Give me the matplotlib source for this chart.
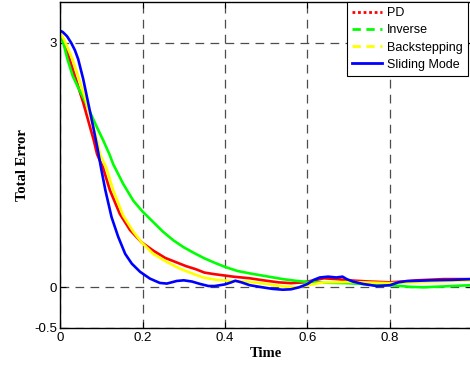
import numpy as np
import matplotlib.pyplot as plt
from matplotlib.lines import Line2D

# PD controller
t_pd = [0, 0.007, 0.023, 0.036, 0.056, 0.072, 0.082, 0.09, 0.104, 0.121, 0.145, 0.17,
        0.198, 0.226, 0.255, 0.28, 0.305, 0.33, 0.35, 0.375, 0.39, 0.42, 0.46, 0.5,
        0.53, 0.56, 0.59, 0.61, 0.64, 0.67, 0.7, 0.75, 0.8, 0.83, 0.865, 0.93, 1.0]
e_pd = [3.12, 3.04, 2.80, 2.59, 2.27, 1.98, 1.80, 1.63, 1.47, 1.19, 0.90, 0.70,
        0.55, 0.45, 0.36, 0.31, 0.26, 0.22, 0.18, 0.16, 0.15, 0.13, 0.11, 0.08,
        0.06, 0.05, 0.06, 0.08, 0.11, 0.10, 0.085, 0.07, 0.06, 0.07, 0.085, 0.10, 0.10]

# Inverse dynamics
t_inv = [0, 0.008, 0.018, 0.031, 0.046, 0.062, 0.088, 0.105, 0.120, 0.129, 0.153, 0.178,
         0.2, 0.226, 0.25, 0.275, 0.30, 0.325, 0.35, 0.375, 0.40, 0.43, 0.46, 0.5,
         0.54, 0.57, 0.6, 0.65, 0.7, 0.75, 0.8, 0.85, 0.88, 0.93, 0.97, 1.0]
e_inv = [3.10, 3.0, 2.80, 2.59, 2.43, 2.27, 1.98, 1.80, 1.63, 1.51, 1.27, 1.06,
         0.93, 0.80, 0.68, 0.575, 0.49, 0.42, 0.355, 0.30, 0.25, 0.20, 0.17, 0.135,
         0.10, 0.08, 0.065, 0.055, 0.05, 0.035, 0.025, 0.005, 0.0, 0.01, 0.02, 0.025]

# Backstepping
t_bs = [0, 0.01, 0.03, 0.044, 0.064, 0.080, 0.09, 0.097, 0.112, 0.129, 0.153, 0.178,
        0.198, 0.226, 0.259, 0.29, 0.32, 0.347, 0.38, 0.42, 0.46, 0.5, 0.54, 0.575,
        0.6, 0.64, 0.7, 0.8, 0.9, 1.0]
e_bs = [3.12, 3.04, 2.80, 2.59, 2.27, 1.98, 1.80, 1.63, 1.47, 1.19, 0.88, 0.68,
        0.55, 0.41, 0.31, 0.23, 0.17, 0.12, 0.09, 0.075, 0.065, 0.04, 0.01, 0.0,
        0.025, 0.06, 0.065, 0.05, 0.07, 0.085]

# Sliding mode
t_sm = [0, 0.007, 0.017, 0.027, 0.036, 0.044, 0.056, 0.068, 0.080, 0.091, 0.100, 0.110,
        0.125, 0.141, 0.158, 0.174, 0.194, 0.218, 0.242, 0.259, 0.283, 0.30, 0.32, 0.34,
        0.36, 0.375, 0.40, 0.415, 0.425, 0.44, 0.46, 0.49, 0.515, 0.54, 0.56, 0.58,
        0.60, 0.615, 0.63, 0.65, 0.67, 0.685, 0.695, 0.71, 0.735, 0.768, 0.80, 0.82,
        0.84, 0.87, 0.9, 0.95, 1.0]
e_sm = [3.15, 3.13, 3.08, 3.0, 2.91, 2.80, 2.56, 2.27, 1.98, 1.70, 1.45, 1.19,
        0.86, 0.62, 0.41, 0.29, 0.19, 0.106, 0.053, 0.045, 0.077, 0.085, 0.07, 0.04,
        0.015, 0.015, 0.035, 0.06, 0.08, 0.06, 0.025, 0.0, -0.02, -0.03, -0.025, 0.0,
        0.04, 0.09, 0.12, 0.13, 0.12, 0.13, 0.10, 0.07, 0.04, 0.015, 0.025, 0.06,
        0.075, 0.08, 0.085, 0.09, 0.10]

labels = ['PD', 'Inverse', 'Backstepping', 'Sliding Mode']
colors = ['#ff0000', '#00ff00', '#ffff00', '#0000ff']
styles = [(0, (1, 1)), (0, (3, 2)), (0, (3, 2)), '-']

fig = plt.figure(figsize=(4.7, 3.69), dpi=100)
ax = fig.add_axes([60 / 470, 41 / 369, 412.5 / 470, 326 / 369])

series = [(t_pd, e_pd), (t_inv, e_inv), (t_bs, e_bs), (t_sm, e_sm)]
for (t, e), c in zip(series, colors):
    ax.plot(t, e, color=c, lw=1.9, solid_joinstyle='round')

ax.set_xlim(0, 1)
ax.set_ylim(-0.5, 3.5)
ax.set_xticks([0, 0.2, 0.4, 0.6, 0.8])
ax.set_xticklabels(['0', '0.2', '0.4', '0.6', '0.8'])
ax.set_yticks([-0.5, 0, 3])
ax.set_yticklabels(['-0.5', '0', '3'])
ax.tick_params(direction='in', length=4, width=0.8, top=True, right=True,
               labelsize=9.5, pad=3)
ax.tick_params(axis='y', pad=2)
for lab in ax.get_xticklabels() + ax.get_yticklabels():
    lab.set_family('Liberation Sans')
for s in ax.spines.values():
    s.set_linewidth(1.0)

ax.grid(True, linestyle=(0, (7, 5)), color='0.3', lw=0.9)

ax.set_xlabel('Time', family='Liberation Serif', fontweight='bold', fontsize=10.5, labelpad=2)
ax.set_ylabel('Total Error', family='Liberation Serif', fontweight='bold', fontsize=10.5, labelpad=4)

handles = [Line2D([], [], color=c, lw=2, linestyle=s) for c, s in zip(colors, styles)]
leg = ax.legend(handles, labels, loc='upper right', bbox_to_anchor=(0.989, 1.0),
                borderaxespad=0, fancybox=False, framealpha=1, edgecolor='black',
                prop={'family': 'Liberation Sans', 'size': 9}, handlelength=2.4,
                labelspacing=0.42, borderpad=0.4, handletextpad=0.4)
leg.get_frame().set_linewidth(0.8)

fig.savefig('out.png', dpi=100)
